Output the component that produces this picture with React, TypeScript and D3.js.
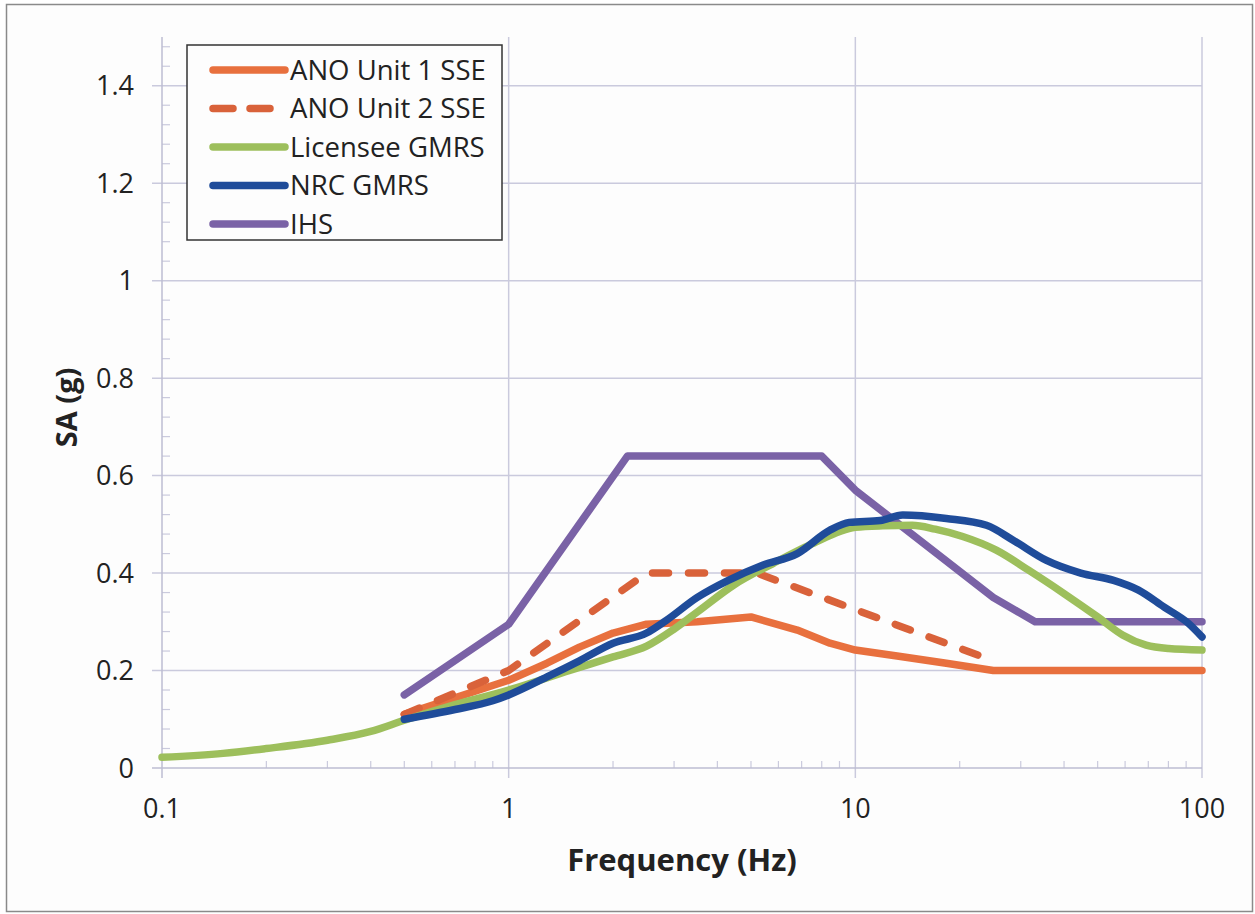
import React, { useEffect, useRef } from "react";
import * as d3 from "d3";

// series data (frequency in Hz, spectral acceleration in g)
const ano1Freq = [0.5, 1, 1.29, 1.6, 2, 2.5, 3.5, 5, 6.8, 8.45, 10, 13.2, 18.3, 25, 100];
const ano1Sa = [0.11, 0.18, 0.215, 0.248, 0.277, 0.295, 0.3, 0.31, 0.283, 0.256, 0.242, 0.23, 0.215, 0.2, 0.2];

const ano2Freq = [0.5, 1, 2.5, 5.2, 25];
const ano2Sa = [0.11, 0.2, 0.4, 0.4, 0.22];

const licFreq = [0.1, 0.15, 0.2, 0.3, 0.4, 0.5, 0.7, 1, 1.5, 2, 2.5, 3, 3.5, 4.45, 5.8, 7.5, 10, 12, 14.6, 17, 20.4, 25.5, 31.6, 39.8, 50, 59, 69, 80, 100];
const licSa = [0.022, 0.03, 0.04, 0.057, 0.075, 0.098, 0.13, 0.16, 0.2, 0.228, 0.25, 0.285, 0.32, 0.375, 0.42, 0.46, 0.494, 0.497, 0.498, 0.49, 0.475, 0.447, 0.406, 0.359, 0.31, 0.273, 0.252, 0.245, 0.242];

const nrcFreq = [0.5, 0.7, 0.9, 1, 1.29, 1.6, 2, 2.5, 2.85, 3.5, 4.3, 5.4, 6.8, 8.45, 9.6, 11.8, 13.7, 18.3, 23.9, 28.6, 35.6, 44.7, 55.6, 65.6, 77.8, 91.3, 100];
const nrcSa = [0.1, 0.12, 0.138, 0.15, 0.187, 0.22, 0.256, 0.277, 0.303, 0.35, 0.385, 0.416, 0.44, 0.488, 0.504, 0.508, 0.519, 0.512, 0.498, 0.467, 0.426, 0.4, 0.385, 0.365, 0.33, 0.297, 0.269];

const ihsFreq = [0.5, 1, 2.2, 8, 10, 25, 33, 100];
const ihsSa = [0.15, 0.295, 0.64, 0.64, 0.57, 0.35, 0.3, 0.3];

const seriesNames = ["ANO Unit 1 SSE", "ANO Unit 2 SSE", "Licensee GMRS", "NRC GMRS", "IHS"];
const seriesColors = ["#e8703e", "#d9623a", "#9dbf5c", "#1f4c9a", "#7a62a6"];

const xTicks = [0.1, 1, 10, 100];
const yTicks = [0, 0.2, 0.4, 0.6, 0.8, 1, 1.2, 1.4];

const App = () => {
  const svgRef = useRef<SVGSVGElement>(null);

  useEffect(() => {
    const width = 1255;
    const height = 914;
    const margin = { top: 37, right: 53, bottom: 146, left: 162 };
    const innerW = width - margin.left - margin.right;
    const innerH = height - margin.top - margin.bottom;
    const font = "'Open Sans', 'Liberation Sans', sans-serif";
    const gridColor = "#cacadd";
    const textColor = "#222";

    const svg = d3.select(svgRef.current);
    svg.selectAll("*").remove();

    // outer frame
    svg
      .append("rect")
      .attr("x", 6.5)
      .attr("y", 4.5)
      .attr("width", 1246)
      .attr("height", 907)
      .attr("fill", "#fdfdfd")
      .attr("stroke", "#8a8a8a")
      .attr("stroke-width", 1.5);

    const x = d3.scaleLog().domain([0.1, 100]).range([0, innerW]);
    const y = d3.scaleLinear().domain([0, 1.5]).range([innerH, 0]);

    const g = svg.append("g").attr("transform", `translate(${margin.left},${margin.top})`);

    // horizontal gridlines
    g.selectAll(".hgrid")
      .data(yTicks.filter((d) => d > 0))
      .enter()
      .append("line")
      .attr("x1", -10)
      .attr("x2", innerW)
      .attr("y1", (d) => y(d))
      .attr("y2", (d) => y(d))
      .attr("stroke", gridColor)
      .attr("stroke-width", 1.5);

    // vertical gridlines
    g.selectAll(".vgrid")
      .data(xTicks.filter((d) => d > 0.1))
      .enter()
      .append("line")
      .attr("x1", (d) => x(d))
      .attr("x2", (d) => x(d))
      .attr("y1", 0)
      .attr("y2", innerH + 10)
      .attr("stroke", gridColor)
      .attr("stroke-width", 1.5);

    // y minor ticks (inside), every 0.04
    const yMinor = d3.range(1, 38).map((i) => i * 0.04).filter((v) => Math.round(v * 25) % 5 !== 0);
    g.selectAll(".yminor")
      .data(yMinor)
      .enter()
      .append("line")
      .attr("x1", 0)
      .attr("x2", 8)
      .attr("y1", (d) => y(d))
      .attr("y2", (d) => y(d))
      .attr("stroke", gridColor)
      .attr("stroke-width", 1.2);

    // x minor ticks (inside)
    const xMinor: number[] = [];
    [0.1, 1, 10].forEach((dec) => {
      for (let k = 2; k <= 9; k++) xMinor.push(dec * k);
    });
    g.selectAll(".xminor")
      .data(xMinor)
      .enter()
      .append("line")
      .attr("x1", (d) => x(d))
      .attr("x2", (d) => x(d))
      .attr("y1", innerH)
      .attr("y2", innerH - 7)
      .attr("stroke", gridColor)
      .attr("stroke-width", 1.2);

    // axis lines
    g.append("line")
      .attr("x1", 0)
      .attr("x2", 0)
      .attr("y1", 0)
      .attr("y2", innerH + 10)
      .attr("stroke", "#bdbdd2")
      .attr("stroke-width", 1.5);
    g.append("line")
      .attr("x1", -10)
      .attr("x2", innerW)
      .attr("y1", innerH)
      .attr("y2", innerH)
      .attr("stroke", "#bdbdd2")
      .attr("stroke-width", 1.5);

    // tick labels
    g.selectAll(".ylab")
      .data(yTicks)
      .enter()
      .append("text")
      .attr("x", -28)
      .attr("y", (d) => y(d))
      .attr("dy", "0.36em")
      .attr("text-anchor", "end")
      .attr("font-family", font)
      .attr("font-size", 27)
      .attr("fill", textColor)
      .text((d) => (d === 0 ? "0" : d === 1 ? "1" : d.toFixed(1)));

    g.selectAll(".xlab")
      .data(xTicks)
      .enter()
      .append("text")
      .attr("x", (d) => x(d))
      .attr("y", innerH + 50)
      .attr("text-anchor", "middle")
      .attr("font-family", font)
      .attr("font-size", 27)
      .attr("fill", textColor)
      .text((d) => String(d));

    // axis titles
    g.append("text")
      .attr("x", innerW / 2)
      .attr("y", innerH + 103)
      .attr("text-anchor", "middle")
      .attr("font-family", font)
      .attr("font-weight", "bold")
      .attr("font-size", 31)
      .attr("fill", textColor)
      .text("Frequency (Hz)");

    g.append("text")
      .attr("transform", `translate(${-95},${y(0.74)}) rotate(-90)`)
      .attr("text-anchor", "middle")
      .attr("dy", "0.35em")
      .attr("font-family", font)
      .attr("font-weight", "bold")
      .attr("font-size", 29)
      .attr("fill", textColor)
      .text("SA (g)");

    // series
    const series = [
      { f: ano1Freq, v: ano1Sa, dash: null, curve: d3.curveLinear },
      { f: ano2Freq, v: ano2Sa, dash: "16 20", curve: d3.curveLinear },
      { f: licFreq, v: licSa, dash: null, curve: d3.curveMonotoneX },
      { f: nrcFreq, v: nrcSa, dash: null, curve: d3.curveMonotoneX },
      { f: ihsFreq, v: ihsSa, dash: null, curve: d3.curveLinear },
    ];
    const drawOrder = [4, 0, 1, 2, 3];
    drawOrder.forEach((i) => {
      const s = series[i];
      const pts: [number, number][] = s.f.map((f, j) => [f, s.v[j]]);
      const line = d3
        .line<[number, number]>()
        .x((d) => x(d[0]))
        .y((d) => y(d[1]))
        .curve(s.curve);
      g.append("path")
        .attr("d", line(pts))
        .attr("fill", "none")
        .attr("stroke", seriesColors[i])
        .attr("stroke-width", 7.5)
        .attr("stroke-linejoin", "round")
        .attr("stroke-linecap", "round")
        .attr("stroke-dasharray", s.dash);
    });

    // legend
    const lg = svg.append("g").attr("transform", "translate(187,45)");
    lg.append("rect")
      .attr("x", 0)
      .attr("y", 0)
      .attr("width", 315)
      .attr("height", 195)
      .attr("fill", "#fdfdfd")
      .attr("stroke", "#333")
      .attr("stroke-width", 1.5);
    seriesNames.forEach((name, i) => {
      const cy = 25 + i * 38.5;
      lg.append("line")
        .attr("x1", 26)
        .attr("x2", 98)
        .attr("y1", cy)
        .attr("y2", cy)
        .attr("stroke", seriesColors[i])
        .attr("stroke-width", 7.5)
        .attr("stroke-linecap", "round")
        .attr("stroke-dasharray", i === 1 ? "20 17" : null);
      lg.append("text")
        .attr("x", 103)
        .attr("y", cy)
        .attr("dy", "0.36em")
        .attr("font-family", font)
        .attr("font-size", 27.5)
        .attr("fill", textColor)
        .text(name);
    });
  }, []);

  return (
    <div style={{ position: "absolute", left: 0, top: 0 }}>
      <svg ref={svgRef} width={1255} height={914} style={{ display: "block" }} />
    </div>
  );
};

export default App;
